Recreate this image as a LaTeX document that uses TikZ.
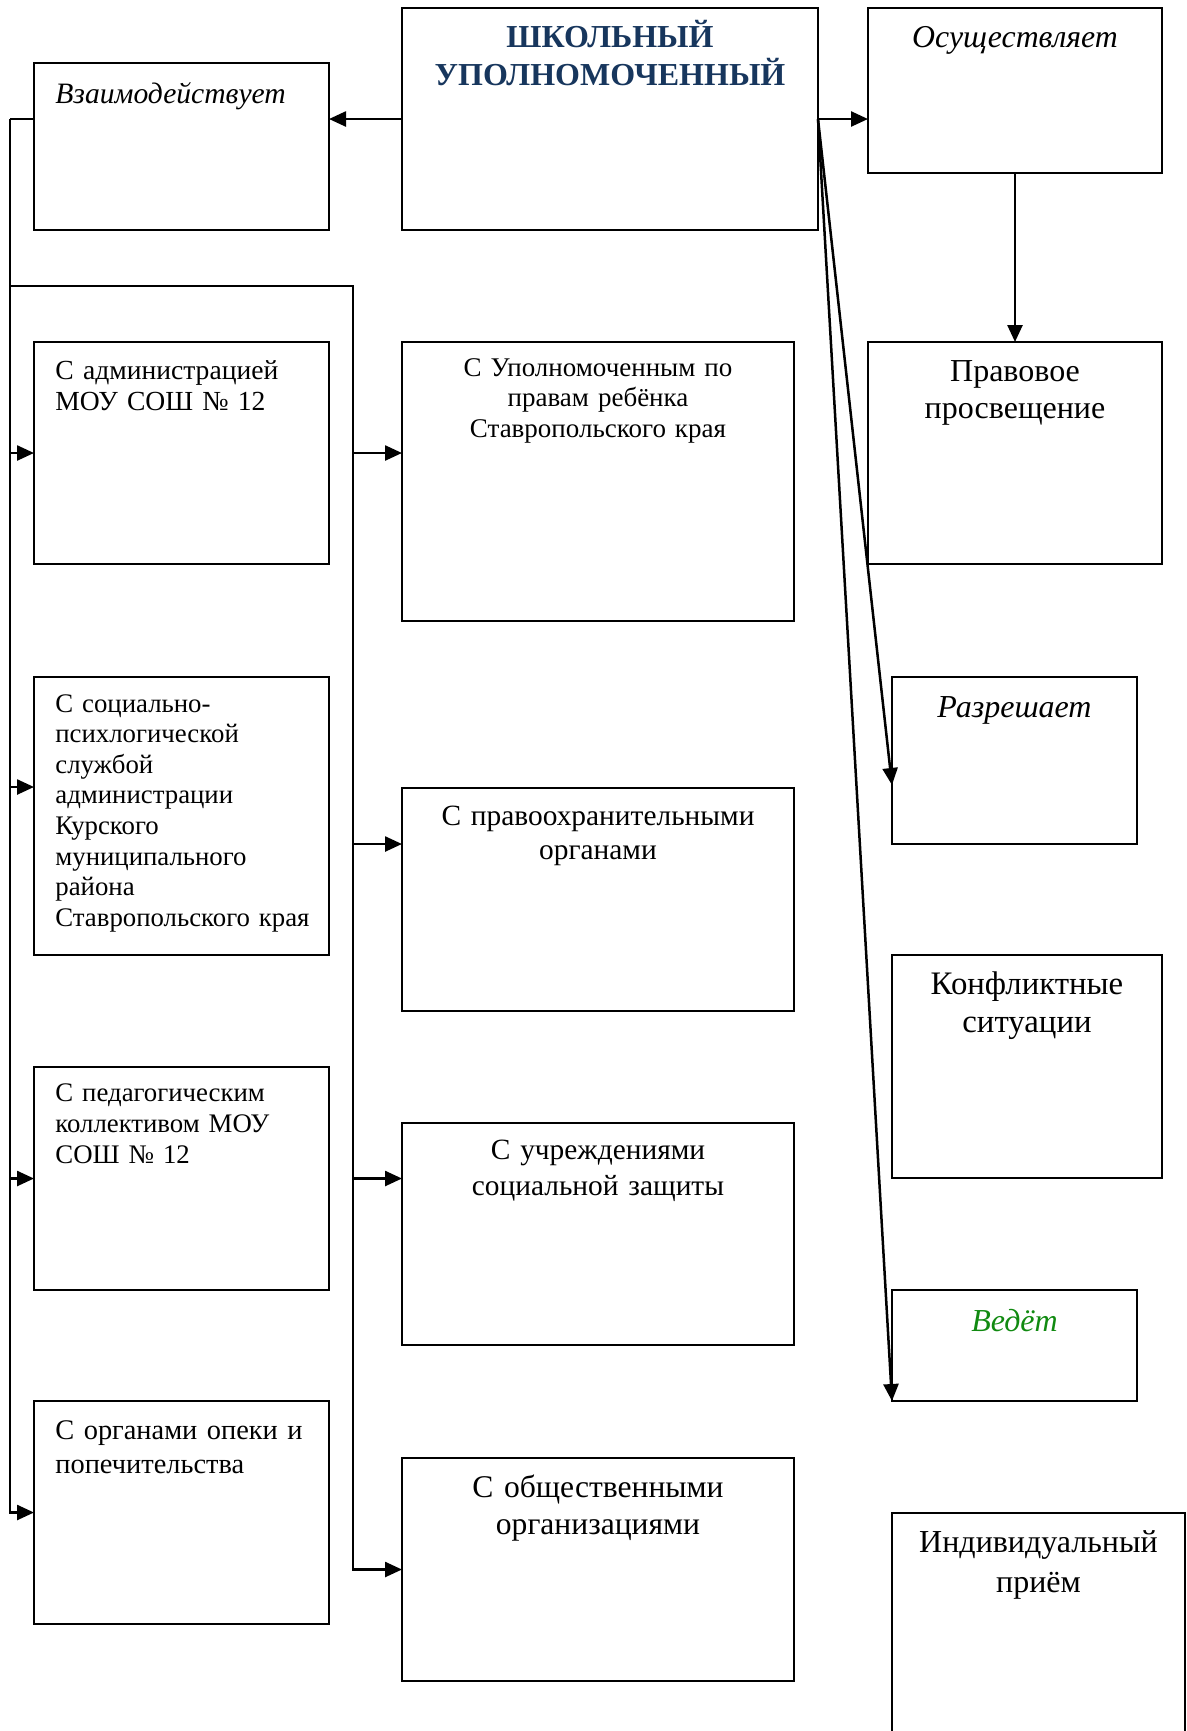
\documentclass[tikz,border=0pt]{standalone}
\usepackage{fontspec}
\setmainfont{Liberation Serif}
\usetikzlibrary{arrows.meta}
\definecolor{titleblue}{HTML}{17365D}
\definecolor{vgreen}{HTML}{118A11}
\begin{document}
\begin{tikzpicture}[x=0.5pt,y=-0.5pt,
  box/.style={draw, line width=1.1pt, anchor=north west, inner sep=0pt, outer sep=0pt},
  conn/.style={line width=1.25pt},
  arr/.style={conn, -{Triangle[length=8.5pt,width=7.5pt]}},
  ctxt/.style={inner sep=0pt, anchor=base, align=center},
  ltxt/.style={inner sep=0pt, anchor=base west, align=left, text width=140pt},
]
\useasboundingbox (0,0) rectangle (1187,1731);
\clip (0,0) rectangle (1187,1731);
% boxes
\node[box, minimum width=208pt, minimum height=111pt] (main) at (402,8) {};
\node[box, minimum width=147pt, minimum height=82.5pt] (osu) at (868,8) {};
\node[box, minimum width=147.5pt, minimum height=83.5pt] (vz) at (34,63) {};
\node[box, minimum width=147pt, minimum height=111pt] (prav) at (868,342) {};
\node[box, minimum width=122.5pt, minimum height=83.5pt] (razr) at (892,677) {};
\node[box, minimum width=135pt, minimum height=111.5pt] (konf) at (892,955) {};
\node[box, minimum width=122.5pt, minimum height=55.5pt] (ved) at (892,1290) {};
\node[box, minimum width=146.5pt, minimum height=130pt] (ind) at (892,1513) {};
\node[box, minimum width=147.5pt, minimum height=111pt] (l1) at (34,342) {};
\node[box, minimum width=147.5pt, minimum height=139pt] (l2) at (34,677) {};
\node[box, minimum width=147.5pt, minimum height=111.5pt] (l3) at (34,1067) {};
\node[box, minimum width=147.5pt, minimum height=111.5pt] (l4) at (34,1401) {};
\node[box, minimum width=196pt, minimum height=139.5pt] (m1) at (402,342) {};
\node[box, minimum width=196pt, minimum height=111.5pt] (m2) at (402,788) {};
\node[box, minimum width=196pt, minimum height=111pt] (m3) at (402,1123) {};
\node[box, minimum width=196pt, minimum height=111.5pt] (m4) at (402,1458) {};
% texts
\node[ctxt, text width=200pt, text=titleblue, font=\fontsize{16pt}{19pt}\selectfont\bfseries] (main-t) at (610,47) {ШКОЛЬНЫЙ\\УПОЛНОМОЧЕННЫЙ};
\node[ctxt, font=\fontsize{15.9pt}{18pt}\selectfont\itshape] (osu-t) at (1015,47) {Осуществляет};
\node[ltxt, font=\fontsize{14.8pt}{18pt}\selectfont\itshape] (vz-t) at (55,103) {Взаимодействует};
\node[ctxt, font=\fontsize{16pt}{18pt}\selectfont\itshape] (razr-t) at (1014.5,717) {Разрешает};
\node[ctxt, text=vgreen, font=\fontsize{16pt}{18pt}\selectfont\itshape] (ved-t) at (1014.5,1331) {Ведёт};
\node[ctxt, text width=145pt, font=\fontsize{16pt}{18.5pt}\selectfont] (prav-t) at (1015,381) {Правовое\\просвещение};
\node[ctxt, text width=133pt, font=\fontsize{16.4pt}{19pt}\selectfont] (konf-t) at (1027,994) {Конфликтные\\ситуации};
\node[ctxt, text width=145pt, font=\fontsize{16pt}{20pt}\selectfont] (ind-t) at (1038.5,1552) {Индивидуальный\\приём};
\node[ltxt, font=\fontsize{13.8pt}{15.6pt}\selectfont] (l1-t) at (55,379.5) {С администрацией\\МОУ СОШ № 12};
\node[ltxt, font=\fontsize{13.4pt}{15.3pt}\selectfont] (l2-t) at (55,712) {С социально-\\психлогической\\службой\\администрации\\Курского\\муниципального\\района\\Ставропольского края};
\node[ltxt, font=\fontsize{13.4pt}{15.5pt}\selectfont] (l3-t) at (55,1101.6) {С педагогическим\\коллективом МОУ\\СОШ № 12};
\node[ltxt, font=\fontsize{14.2pt}{17pt}\selectfont] (l4-t) at (55,1439.6) {С органами опеки и\\попечительства};
\node[ctxt, text width=194pt, font=\fontsize{13.5pt}{15.25pt}\selectfont] (m1-t) at (598,376) {С Уполномоченным по\\правам ребёнка\\ Ставропольского края};
\node[ctxt, text width=194pt, font=\fontsize{14.7pt}{17.25pt}\selectfont] (m2-t) at (598,825) {С правоохранительными\\органами};
\node[ctxt, text width=194pt, font=\fontsize{14.7pt}{18pt}\selectfont] (m3-t) at (598,1159) {С учреждениями\\социальной защиты};
\node[ctxt, text width=194pt, font=\fontsize{15.8pt}{18.5pt}\selectfont] (m4-t) at (598,1497) {С общественными\\организациями};
% connectors
\coordinate (busL) at (10,119);
\coordinate (busM) at (353,286);
\draw[arr] (main.west) -- (main.west -| vz.east);
\draw[arr] (main.east) -- (main.east -| osu.west);
\draw[arr] (osu.south) -- (prav.north);
\draw[arr] (main.east) -- (razr.west |- 0,785);
\draw[arr] (main.east) -- (ved.south west);
\draw[conn] (vz.west |- main.west) -- (busL);
\draw[arr] (busL) |- (l4.west);
\draw[arr] (busL |- l1.west) -- (l1.west);
\draw[arr] (busL |- 0,787) -- (l2.west |- 0,787);
\draw[arr] (busL |- l3.west) -- (l3.west);
\draw[arr] (busL |- busM) -- (busM) |- (m4.west);
\draw[arr] (busM |- l1.west) -- (m1.west |- l1.west);
\draw[arr] (busM |- 0,844) -- (m2.west |- 0,844);
\draw[arr] (busM |- l3.west) -- (m3.west |- l3.west);
\end{tikzpicture}
\end{document}
